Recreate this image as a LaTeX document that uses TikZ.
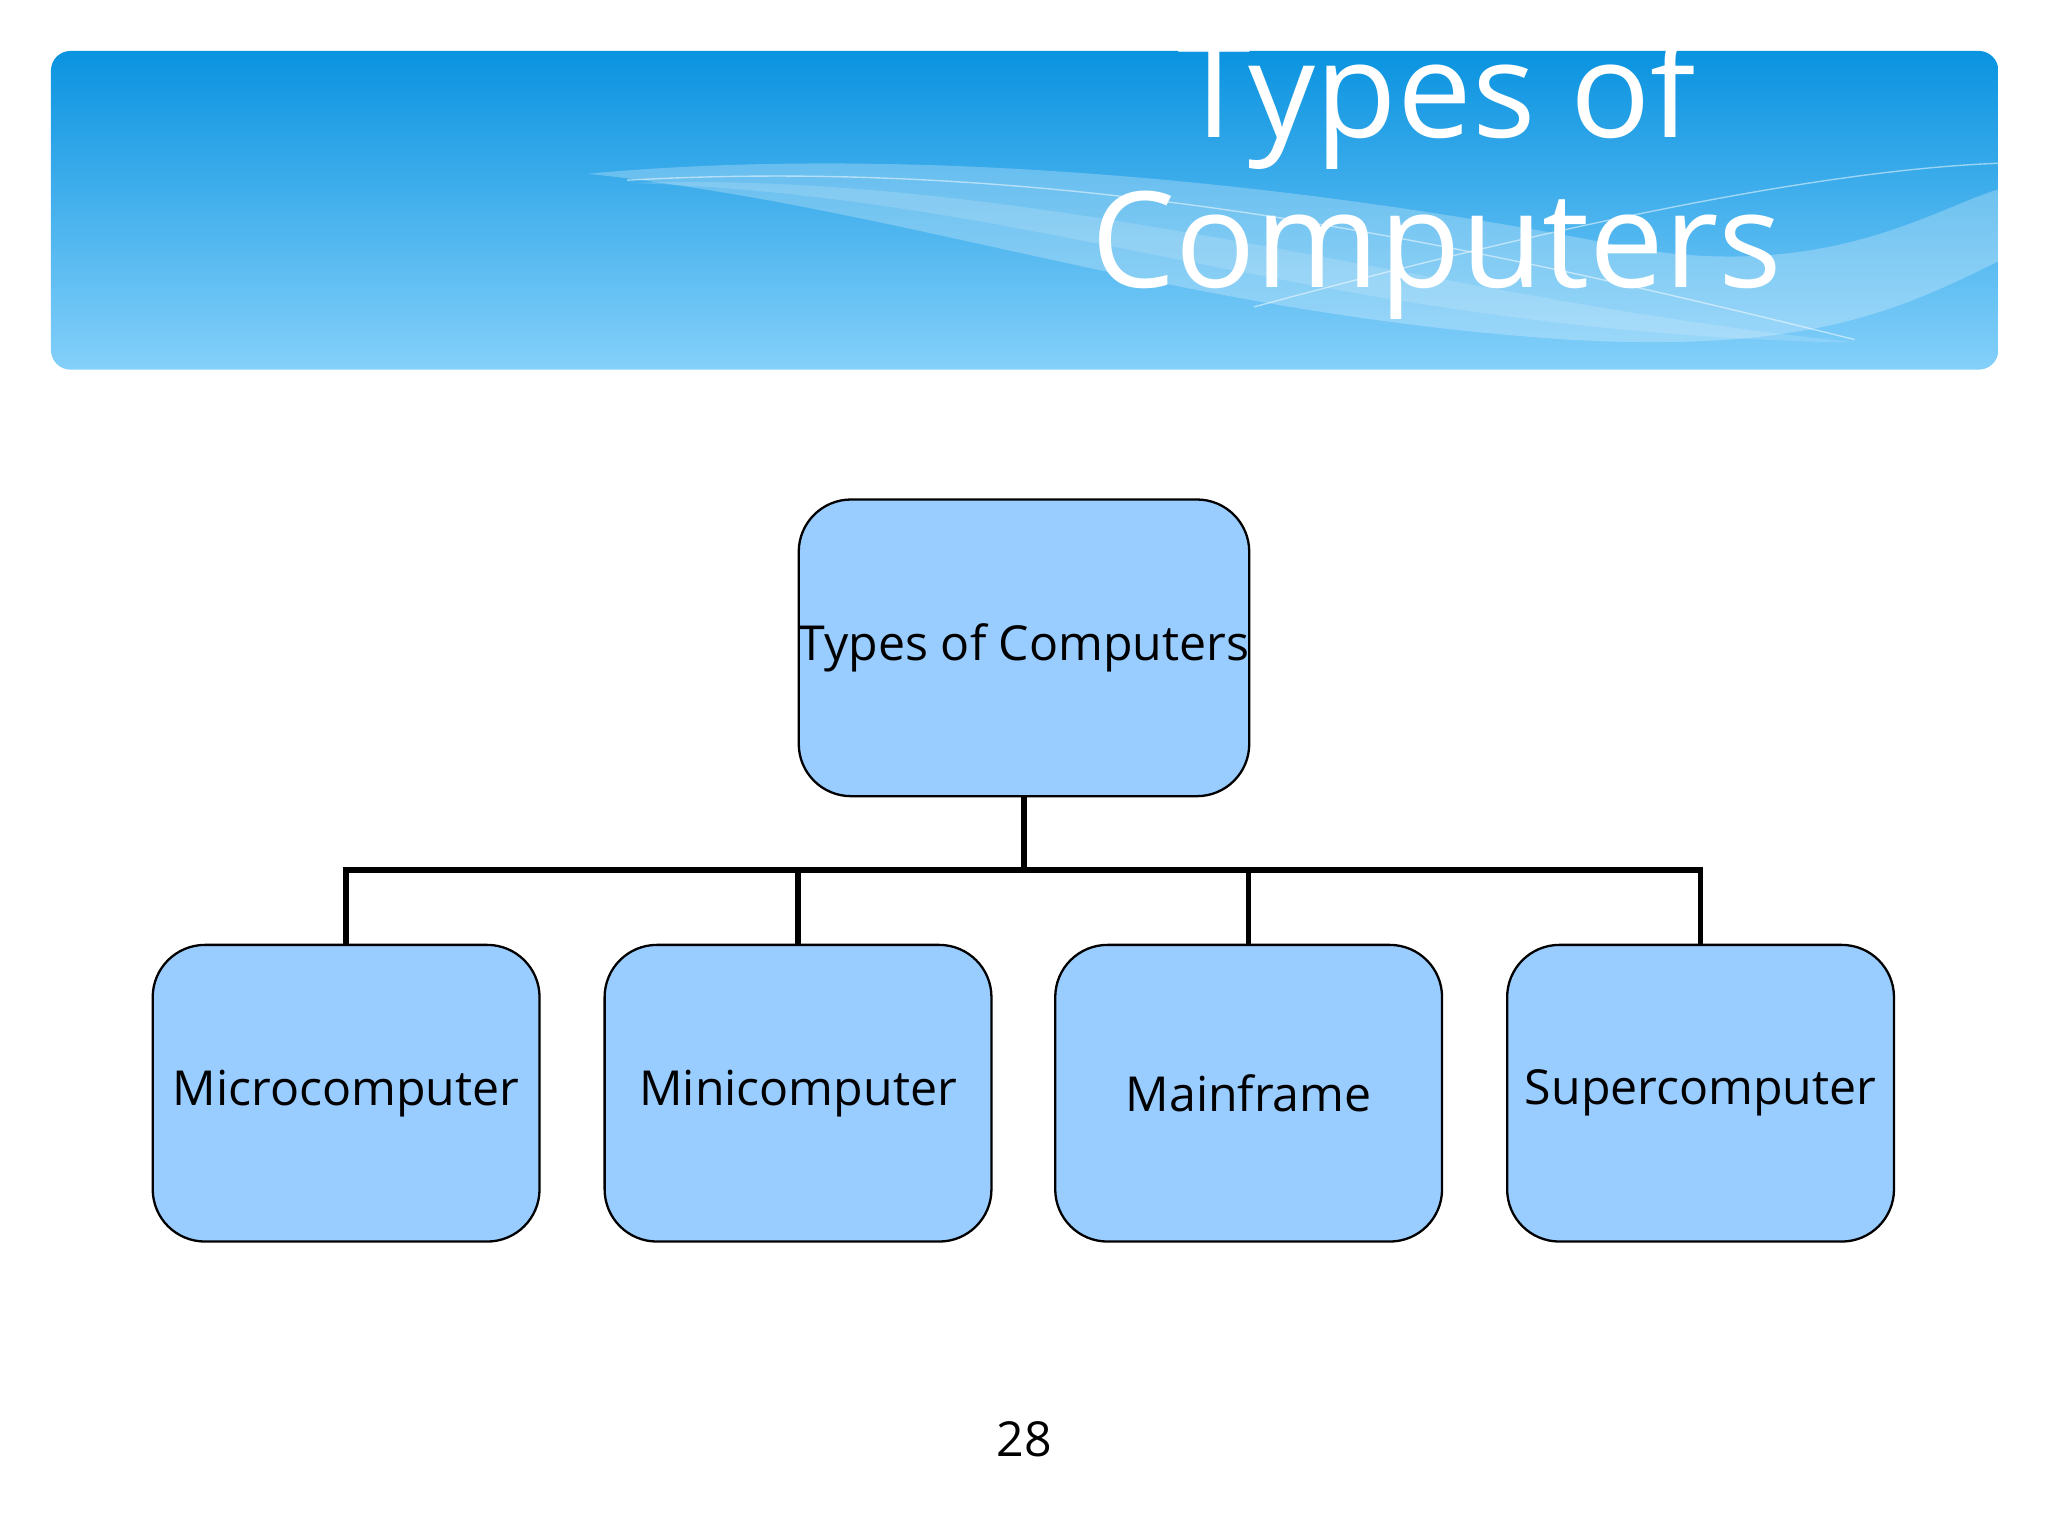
\documentclass[tikz,border=0pt]{standalone}
\usepackage{fontspec}
\setmainfont{Open Sans}
\begin{document}
\begin{tikzpicture}[x=0.01cm,y=-0.01cm,
  box/.style={draw=black,line width=0.5pt,fill=boxblue,rounded corners=0.4cm,minimum width=2.96cm,minimum height=2.27cm,font=\fontsize{10.5pt}{12pt}\selectfont,inner sep=0pt},
  conn/.style={line width=1.2pt}]
\definecolor{boxblue}{HTML}{99CCFF}
\definecolor{bantop}{HTML}{0A93E0}
\definecolor{banbot}{HTML}{84D0FA}
\useasboundingbox (0,0) rectangle (1568,1176);
\fill[white] (0,0) rectangle (1568,1176);
\shade[top color=bantop,bottom color=banbot,rounded corners=0.15cm] (39,39) rectangle (1530,283);
\begin{scope}
\clip[rounded corners=0.15cm] (39,39) rectangle (1530,283);
\fill[white,opacity=0.25] (450,133) .. controls (700,110) and (1000,140) .. (1250,190) .. controls (1400,215) and (1480,160) .. (1530,145) -- (1530,200) .. controls (1450,240) and (1380,270) .. (1200,260) .. controls (900,240) and (700,160) .. (450,133) -- cycle;
\fill[white,opacity=0.15] (480,140) .. controls (800,150) and (1000,250) .. (1400,262) -- (1420,262) .. controls (1100,230) and (800,130) .. (480,140) -- cycle;
\draw[white,opacity=0.5,line width=0.3pt] (480,138) .. controls (800,120) and (1100,180) .. (1420,260);
\draw[white,opacity=0.5,line width=0.3pt] (960,235) .. controls (1200,170) and (1400,130) .. (1530,125);
\end{scope}
\node[white,font=\fontsize{29pt}{30pt}\selectfont,anchor=base] (t1) at (1100,105) {Types of};
\node[white,font=\fontsize{29pt}{30pt}\selectfont,anchor=base] (t2) at (1100,220) {Computers};
\node[box] (top) at (784,496) {Types of Computers};
\node[box] (a) at (265,837) {Microcomputer};
\node[box] (b) at (611,837) {Minicomputer};
\node[box] (c) at (956,837) {Mainframe};
\node[box] (d) at (1302,837) {Supercomputer};
\coordinate (j) at (784,666);
\draw[conn] (top.south) -- (j);
\draw[conn] (a.north) |- (j);
\draw[conn] (d.north) |- (j);
\draw[conn] (b.north) -- (b.north |- j);
\draw[conn] (c.north) -- (c.north |- j);
\node[font=\fontsize{10.5pt}{12pt}\selectfont] (pg) at (784,1102) {28};
\end{tikzpicture}
\end{document}
